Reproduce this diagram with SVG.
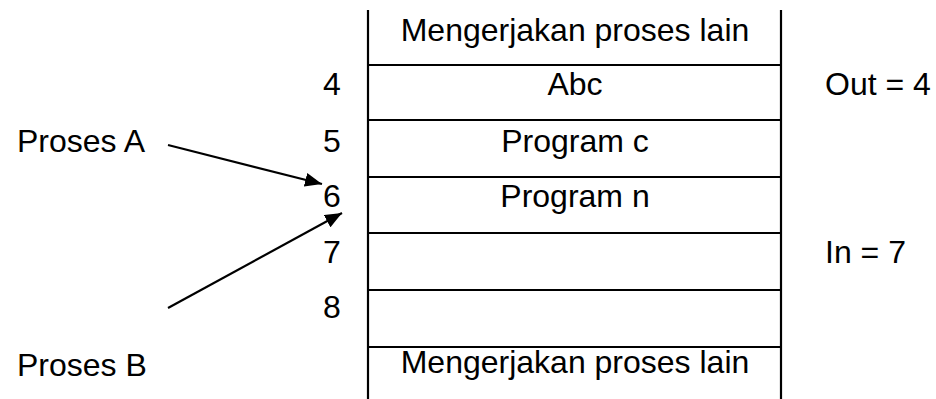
<svg xmlns="http://www.w3.org/2000/svg" width="936" height="399" viewBox="0 0 936 399">
<style>
text{font-family:"Liberation Sans",Arial,sans-serif;font-size:32px;fill:#000}
.c{text-anchor:middle}
.ln{stroke:#000;stroke-width:2.2;fill:none}
.ar{stroke:#000;stroke-width:2.2;fill:none;marker-end:url(#ah)}
</style>
<defs>
<marker id="ah" markerUnits="userSpaceOnUse" markerWidth="18" markerHeight="14" refX="17" refY="7" orient="auto">
<path d="M0,0 L17,7 L0,14 Z" fill="#000"/>
</marker>
</defs>
<g id="stack">
<line class="ln" x1="368" y1="10" x2="368" y2="399"/>
<line class="ln" x1="781" y1="10" x2="781" y2="399"/>
<line class="ln" x1="368" y1="65" x2="781" y2="65"/>
<line class="ln" x1="368" y1="120" x2="781" y2="120"/>
<line class="ln" x1="368" y1="177" x2="781" y2="177"/>
<line class="ln" x1="368" y1="233" x2="781" y2="233"/>
<line class="ln" x1="368" y1="290" x2="781" y2="290"/>
<line class="ln" x1="368" y1="347" x2="781" y2="347"/>
</g>
<g id="cell-top"><text class="c" x="575" y="41">Mengerjakan proses lain</text></g>
<g id="cell-4"><text class="c" x="575" y="95">Abc</text><text class="c" x="332" y="95">4</text></g>
<g id="cell-5"><text class="c" x="575" y="152">Program c</text><text class="c" x="332" y="152">5</text></g>
<g id="cell-6"><text class="c" x="575" y="207">Program n</text><text class="c" x="332" y="207">6</text></g>
<g id="cell-7"><text class="c" x="332" y="263">7</text></g>
<g id="cell-8"><text class="c" x="332" y="318">8</text></g>
<g id="cell-bottom"><text class="c" x="575" y="373">Mengerjakan proses lain</text></g>
<g id="out"><text x="825" y="95">Out = 4</text></g>
<g id="in"><text x="825" y="263">In = 7</text></g>
<g id="proses-a"><text x="17" y="152">Proses A</text></g>
<g id="proses-b"><text x="17" y="376">Proses B</text></g>
<g id="connectors">
<line class="ar" x1="168" y1="145" x2="322" y2="184"/>
<line class="ar" x1="168" y1="308" x2="342" y2="213"/>
</g>
</svg>
